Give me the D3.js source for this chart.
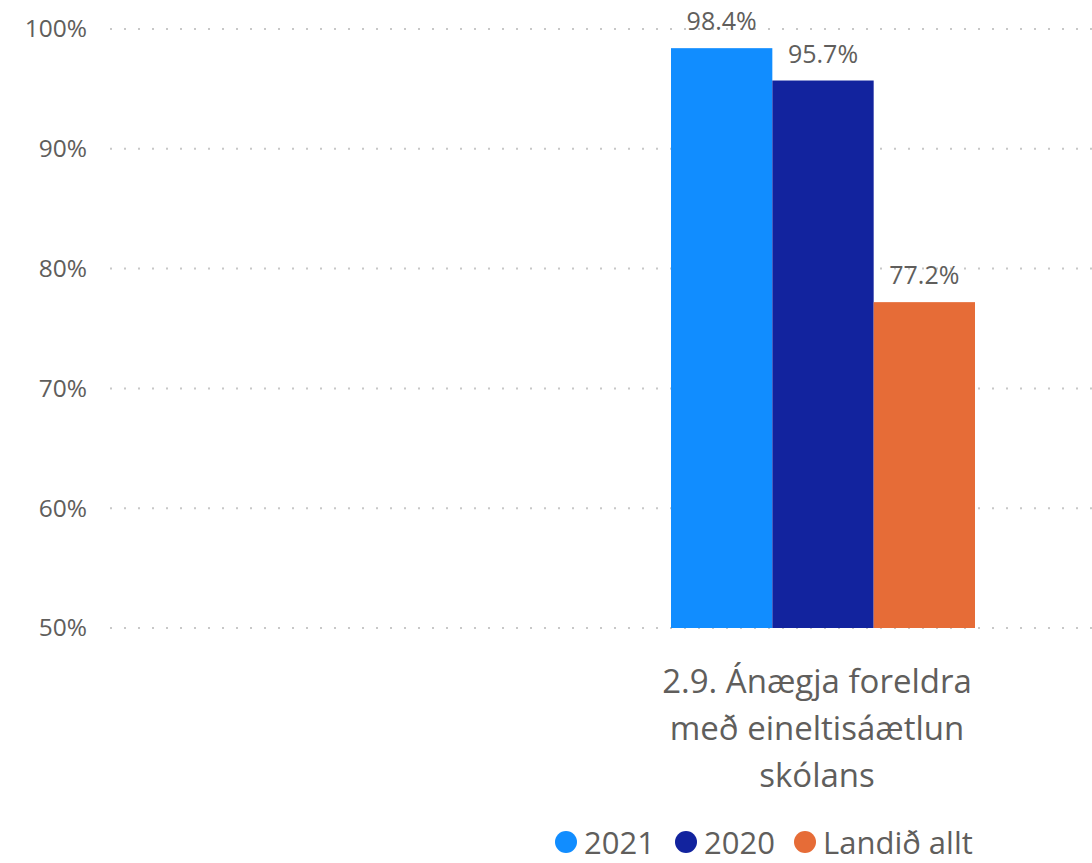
<!DOCTYPE html>
<html>
<head>
<meta charset="utf-8">
<script src="https://cdn.jsdelivr.net/npm/d3@7"></script>
<style>
  html, body { margin: 0; padding: 0; background: #fff; }
  svg { display: block; }
  text { font-family: "Segoe UI", "Open Sans", "Noto Sans", sans-serif; fill: #605E5C; }
</style>
</head>
<body>
<svg id="chart" width="1092" height="863"></svg>
<script>
const categories = ["2.9. Ánægja foreldra með eineltisáætlun skólans"];
const seriesNames = ["2021", "2020", "Landið allt"];
const values2021 = [0.984];
const values2020 = [0.957];
const valuesLandid = [0.772];
const seriesColors = ["#118DFF", "#12239E", "#E66C37"];
const yTicks = [0.5, 0.6, 0.7, 0.8, 0.9, 1.0];

const seriesValues = [values2021, values2020, valuesLandid];
const svg = d3.select("#chart");
const W = 1092, H = 863;

const y = d3.scaleLinear().domain([0.5, 1.0]).range([628, 29]);
const x = d3.scaleBand().domain(categories).range([671, 975]).padding(0);
const xs = d3.scaleBand().domain(seriesNames).range([0, x.bandwidth()]).padding(0);

// gridlines
svg.append("g").selectAll("line").data(yTicks).join("line")
  .attr("x1", 110).attr("x2", W)
  .attr("y1", d => y(d)).attr("y2", d => y(d))
  .attr("stroke", "#C8C8C8").attr("stroke-width", 2)
  .attr("stroke-dasharray", "2 12");

// y axis
const yAxis = svg.append("g").attr("transform", "translate(87,0)")
  .call(d3.axisLeft(y).tickValues(yTicks).tickFormat(d3.format(".0%")).tickSize(0).tickPadding(0));
yAxis.select(".domain").remove();
yAxis.selectAll("text").style("font-size", "24.5px").attr("fill", "#605E5C")
  .style("font-family", '"Segoe UI", "Open Sans", sans-serif');

// bars
const rows = [];
categories.forEach((c, i) => seriesNames.forEach((s, j) => rows.push({c, s, v: seriesValues[j][i], color: seriesColors[j]})));

svg.append("g").selectAll("rect").data(rows).join("rect")
  .attr("x", d => x(d.c) + xs(d.s))
  .attr("width", xs.bandwidth())
  .attr("y", d => y(d.v))
  .attr("height", d => y(0.5) - y(d.v))
  .attr("fill", d => d.color);

// data labels
svg.append("g").selectAll("text").data(rows).join("text")
  .attr("x", d => x(d.c) + xs(d.s) + xs.bandwidth() / 2)
  .attr("y", d => y(d.v) - 18)
  .attr("text-anchor", "middle")
  .style("font-size", "25px")
  .text(d => d3.format(".1%")(d.v));

// category labels (wrapped)
const catG = svg.append("g");
categories.forEach(c => {
  const cx = x(c) + x.bandwidth() / 2 - 6;
  const t = catG.append("text")
    .attr("x", cx)
    .attr("y", 693)
    .attr("text-anchor", "middle")
    .style("font-size", "33px");
  const words = c.split(" ");
  let line = [];
  let tspan = t.append("tspan").attr("x", cx).attr("dy", 0);
  words.forEach(w => {
    line.push(w);
    tspan.text(line.join(" "));
    if (tspan.node().getComputedTextLength() > 350 && line.length > 1) {
      line.pop();
      tspan.text(line.join(" "));
      line = [w];
      tspan = t.append("tspan").attr("x", cx).attr("dy", 47).text(w);
    }
  });
});

// legend
const legend = svg.append("g");
const legendX = [566, 686, 805];
seriesNames.forEach((s, i) => {
  legend.append("circle").attr("cx", legendX[i]).attr("cy", 842).attr("r", 11).attr("fill", seriesColors[i]);
  legend.append("text").attr("x", legendX[i] + 18).attr("y", 853.5)
    .style("font-size", "31px").text(s);
});
</script>
</body>
</html>
